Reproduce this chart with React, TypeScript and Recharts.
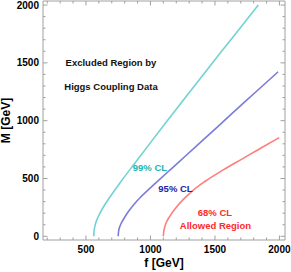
import { LineChart, Line, XAxis, YAxis, ReferenceDot } from 'recharts';

// 99% CL contour (cyan)
const f99 = [560, 563, 570, 580, 595, 640, 686, 777, 880, 1009, 1138, 1254, 1400, 1550, 1700, 1836];
const m99 = [0, 45, 90, 130, 169, 262, 340, 482, 634, 823, 1010, 1177, 1385, 1598, 1808, 2000];

// 95% CL contour (blue)
const f95 = [750, 752, 757, 765, 777, 800, 828, 870, 919, 970, 1035, 1151, 1267, 1400, 1550, 1746, 1870, 1990];
const m95 = [0, 35, 65, 92, 120, 165, 212, 273, 333, 388, 455, 573, 690, 825, 977, 1178, 1302, 1423];

// 68% CL contour (red)
const f68 = [1100, 1102, 1106, 1112, 1125, 1151, 1216, 1306, 1422, 1564, 1719, 1874, 1998];
const m68 = [0, 30, 58, 85, 125, 175, 272, 374, 474, 574, 674, 775, 853];

const xTicks = [200, 300, 400, 500, 600, 700, 800, 900, 1000, 1100, 1200, 1300, 1400, 1500, 1600, 1700, 1800, 1900, 2000];
const yTicks = [0, 100, 200, 300, 400, 500, 600, 700, 800, 900, 1000, 1100, 1200, 1300, 1400, 1500, 1600, 1700, 1800, 1900, 2000];

const toPoints = (fs: number[], ms: number[]) => fs.map((f, i) => ({ f, M: ms[i] }));

const GRAY = '#a0a0a0';
const FONT = '"Liberation Sans", Arial, sans-serif';

const isMajor = (v: number) => v % 500 === 0;

function BottomTick({ x, y, payload }: any) {
  const major = isMajor(payload.value);
  return (
    <g>
      <line x1={x} y1={y} x2={x} y2={y - (major ? 4.5 : 2.5)} stroke={GRAY} />
      {major && (
        <text x={x} y={y + 13} textAnchor="middle" fontSize={10} fontWeight="bold" fontFamily={FONT} fill="#000">
          {payload.value}
        </text>
      )}
    </g>
  );
}

function TopTick({ x, y, payload }: any) {
  const major = isMajor(payload.value);
  return <line x1={x} y1={y} x2={x} y2={y + (major ? 4.5 : 2.5)} stroke={GRAY} />;
}

function LeftTick({ x, y, payload }: any) {
  const major = isMajor(payload.value);
  return (
    <g>
      <line x1={x} y1={y} x2={x + (major ? 4.5 : 2.5)} y2={y} stroke={GRAY} />
      {major && (
        <text x={x - 4} y={y + 3.5} textAnchor="end" fontSize={10} fontWeight="bold" fontFamily={FONT} fill="#000">
          {payload.value}
        </text>
      )}
    </g>
  );
}

function RightTick({ x, y, payload }: any) {
  const major = isMajor(payload.value);
  return <line x1={x} y1={y} x2={x - (major ? 4.5 : 2.5)} y2={y} stroke={GRAY} />;
}

const note = (value: string, fill: string) => ({
  value,
  position: 'center' as const,
  fill,
  fontSize: 9.5,
  fontWeight: 'bold',
  fontFamily: FONT,
});

export default function App() {
  return (
    <div style={{ position: 'absolute', left: 0, top: 0, background: '#fff' }}>
      <LineChart width={291} height={272} margin={{ top: 0, right: 0, bottom: 0, left: 0 }} style={{ fontFamily: FONT }}>
        <XAxis
          type="number"
          dataKey="f"
          domain={[167, 2043]}
          ticks={xTicks}
          interval={0}
          allowDataOverflow
          height={32}
          tickSize={0}
          tickMargin={0}
          tickLine={false}
          axisLine={{ stroke: GRAY }}
          tick={<BottomTick />}
          label={{ value: 'f [GeV]', position: 'insideBottom', offset: 5, fontSize: 12, fontWeight: 'bold', fill: '#000', fontFamily: FONT }}
        />
        <XAxis
          xAxisId="top"
          orientation="top"
          type="number"
          dataKey="f"
          domain={[167, 2043]}
          ticks={xTicks}
          interval={0}
          allowDataOverflow
          height={1}
          tickSize={0}
          tickMargin={0}
          tickLine={false}
          axisLine={{ stroke: GRAY }}
          tick={<TopTick />}
        />
        <YAxis
          type="number"
          dataKey="M"
          domain={[-32, 2035]}
          ticks={yTicks}
          interval={0}
          allowDataOverflow
          width={43}
          tickSize={0}
          tickMargin={0}
          tickLine={false}
          axisLine={{ stroke: GRAY }}
          tick={<LeftTick />}
          label={{
            value: 'M [GeV]',
            angle: -90,
            position: 'insideLeft',
            offset: 6.2,
            fontSize: 12,
            fontWeight: 'bold',
            fill: '#000',
            fontFamily: FONT,
            style: { textAnchor: 'middle' },
          }}
        />
        <YAxis
          yAxisId="right"
          orientation="right"
          type="number"
          domain={[-32, 2035]}
          ticks={yTicks}
          interval={0}
          allowDataOverflow
          width={6}
          tickSize={0}
          tickMargin={0}
          tickLine={false}
          axisLine={{ stroke: GRAY }}
          tick={<RightTick />}
        />
        <Line data={toPoints(f99, m99)} dataKey="M" type="monotone" stroke="#72d3d3" strokeWidth={1.6} dot={false} isAnimationActive={false} />
        <Line data={toPoints(f95, m95)} dataKey="M" type="monotone" stroke="#7c7cd9" strokeWidth={1.6} dot={false} isAnimationActive={false} />
        <Line data={toPoints(f68, m68)} dataKey="M" type="monotone" stroke="#ff7d7d" strokeWidth={1.6} dot={false} isAnimationActive={false} />

        <ReferenceDot x={694} y={1501} r={0} fill="none" stroke="none" label={note('Excluded Region by', '#111')} />
        <ReferenceDot x={694} y={1295} r={0} fill="none" stroke="none" label={note('Higgs Coupling Data', '#111')} />
        <ReferenceDot x={996} y={591} r={0} fill="none" stroke="none" label={note('99% CL', '#22b6b6')} />
        <ReferenceDot x={1194} y={409} r={0} fill="none" stroke="none" label={note('95% CL', '#2424a8')} />
        <ReferenceDot x={1500} y={201} r={0} fill="none" stroke="none" label={note('68% CL', '#ff2a2a')} />
        <ReferenceDot x={1504} y={92} r={0} fill="none" stroke="none" label={note('Allowed Region', '#ff2a2a')} />
      </LineChart>
    </div>
  );
}
